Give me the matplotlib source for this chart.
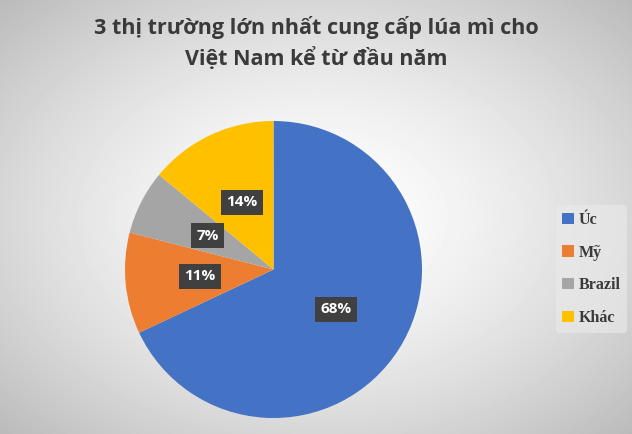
import numpy as np
import matplotlib.pyplot as plt

# data
labels = ['Úc', 'Mỹ', 'Brazil', 'Khác']
values = [68, 11, 7, 14]
colors = ['#4472C4', '#ED7D31', '#A5A5A5', '#FFC000']
title = '3 thị trường lớn nhất cung cấp lúa mì cho\nViệt Nam kể từ đầu năm'

W, H = 632, 434
fig = plt.figure(figsize=(W / 100, H / 100), dpi=100)

# radial gray background
bg = fig.add_axes([0, 0, 1, 1], zorder=-10)
yy, xx = np.mgrid[0:H, 0:W]
r = np.sqrt(((xx - W / 2) / (W / 2)) ** 2 + ((yy - H / 2) / (H / 2)) ** 2) / np.sqrt(2)
shade = 1.0 - 0.27 * r ** 1.5
bg.imshow(shade, cmap='gray', vmin=0, vmax=1, aspect='auto', extent=[0, 1, 0, 1])
bg.axis('off')

# pie axes: center (273.5, 269.5), radius 148.5 px
cx, cy, rad = 273.5, 269.5, 148.5
ax = fig.add_axes([(cx - rad) / W, 1 - (cy + rad) / H, 2 * rad / W, 2 * rad / H])
wedges, texts, autotexts = ax.pie(values, colors=colors, startangle=90, counterclock=False,
                                  autopct='%d%%', pctdistance=0.5, radius=1,
                                  wedgeprops=dict(linewidth=0))
for t in autotexts:
    t.set_color('white')
    t.set_fontsize(11)
    t.set_fontweight('bold')
    t.set_family('Open Sans')
    t.set_bbox(dict(boxstyle='square,pad=0.35', facecolor='#404040', edgecolor='none'))
ax.set_xlim(-1, 1)
ax.set_ylim(-1, 1)
ax.set_aspect('equal')

fig.text(0.5, 1 - 43 / H, title, ha='center', va='center', fontsize=15.5,
         fontweight='bold', family='Open Sans', color='#3a3a3a', linespacing=1.45)

leg = fig.legend(wedges, labels, loc='center left', bbox_to_anchor=(548 / W, 1 - 269 / H),
                 frameon=True, handlelength=0.7, handleheight=0.7, handletextpad=0.3,
                 labelspacing=1.05, borderpad=0.4,
                 prop=dict(family='Liberation Serif', weight='bold', size=11.5))
leg.get_frame().set_facecolor('#ebebeb')
leg.get_frame().set_edgecolor('none')
leg.get_frame().set_alpha(0.6)
for t in leg.get_texts():
    t.set_color('#3a3a3a')

fig.savefig('out.png', dpi=100)
